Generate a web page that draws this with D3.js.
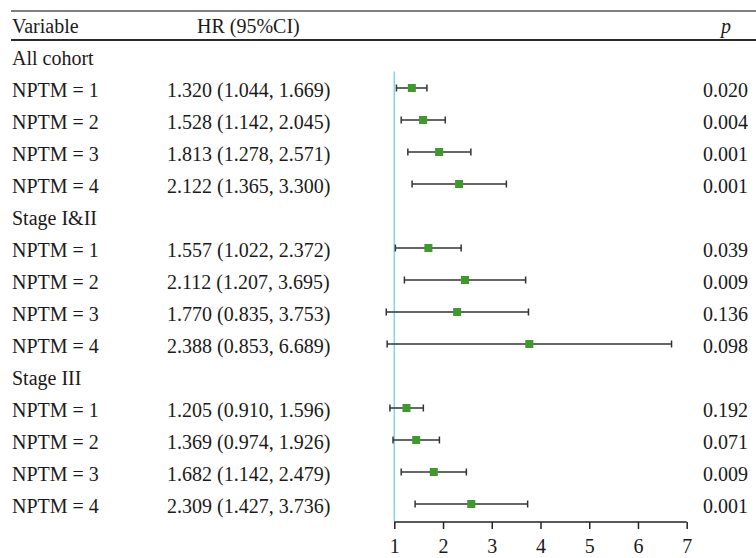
<!DOCTYPE html>
<html>
<head>
<meta charset="utf-8">
<script src="https://cdn.jsdelivr.net/npm/d3@7"></script>
<style>
  body { margin: 0; background: #fff; }
  svg text { font-family: "Liberation Serif", "DejaVu Serif", serif; font-size: 20px; fill: #1a1a1a; }
</style>
</head>
<body>
<svg id="chart" width="756" height="558"></svg>
<script>
// rows of the table, group headers have no estimate
var labels = ["All cohort", "NPTM = 1", "NPTM = 2", "NPTM = 3", "NPTM = 4",
              "Stage I&II", "NPTM = 1", "NPTM = 2", "NPTM = 3", "NPTM = 4",
              "Stage III", "NPTM = 1", "NPTM = 2", "NPTM = 3", "NPTM = 4"];
var hr    = [null, 1.320, 1.528, 1.813, 2.122, null, 1.557, 2.112, 1.770, 2.388, null, 1.205, 1.369, 1.682, 2.309];
var lower = [null, 1.044, 1.142, 1.278, 1.365, null, 1.022, 1.207, 0.835, 0.853, null, 0.910, 0.974, 1.142, 1.427];
var upper = [null, 1.669, 2.045, 2.571, 3.300, null, 2.372, 3.695, 3.753, 6.689, null, 1.596, 1.926, 2.479, 3.736];
var pvals = [null, "0.020", "0.004", "0.001", "0.001", null, "0.039", "0.009", "0.136", "0.098", null, "0.192", "0.071", "0.009", "0.001"];
// where the squares sit in the figure (read off the plot, not the HR column)
var markers = [null, 1.36, 1.59, 1.92, 2.33, null, 1.70, 2.45, 2.29, 3.77, null, 1.25, 1.45, 1.81, 2.58];
var xTicks = [1, 2, 3, 4, 5, 6, 7];

var rows = labels.map(function(l, i) {
    return {label: l, hr: hr[i], lo: lower[i], hi: upper[i], p: pvals[i], m: markers[i], index: i};
});

var svg = d3.select("#chart");

var x = d3.scaleLinear().domain([1, 7]).range([394.3, 686.7]);
var y = d3.scaleLinear().domain([0, rows.length - 1]).range([56, 504]);
var axisY = 522;

function fmt(v) { return v.toFixed(3); }

// header rules
svg.append("line")
    .attr("x1", 11).attr("x2", 756).attr("y1", 11).attr("y2", 11)
    .attr("stroke", "#555").attr("stroke-width", 1.3);
svg.append("line")
    .attr("x1", 11).attr("x2", 756).attr("y1", 40).attr("y2", 40)
    .attr("stroke", "#2a2a2a").attr("stroke-width", 2);

svg.append("text").attr("x", 12).attr("y", 33).text("Variable");
svg.append("text").attr("x", 197).attr("y", 33).text("HR (95%CI)");
svg.append("text").attr("x", 726).attr("y", 33)
    .attr("text-anchor", "middle").style("font-style", "italic").text("p");

// reference line at HR = 1
svg.append("line")
    .attr("x1", x(1)).attr("x2", x(1))
    .attr("y1", 71.5).attr("y2", axisY)
    .attr("stroke", "#7fd6e4").attr("stroke-width", 1.5);

var row = svg.selectAll(".row")
    .data(rows)
    .enter()
    .append("g")
    .attr("class", "row")
    .attr("transform", function(d) { return "translate(0," + y(d.index) + ")"; });

row.append("text")
    .attr("x", 12).attr("y", 9)
    .text(function(d) { return d.label; });

var est = row.filter(function(d) { return d.hr !== null; });

est.append("text")
    .attr("x", 167).attr("y", 9)
    .text(function(d) { return fmt(d.hr) + " (" + fmt(d.lo) + ", " + fmt(d.hi) + ")"; });

est.append("text")
    .attr("x", 748).attr("y", 9)
    .attr("text-anchor", "end")
    .text(function(d) { return d.p; });

est.append("line")
    .attr("x1", function(d) { return x(d.lo); })
    .attr("x2", function(d) { return x(d.hi); })
    .attr("stroke", "#333").attr("stroke-width", 1.5);

est.selectAll(".cap")
    .data(function(d) { return [d.lo, d.hi]; })
    .enter()
    .append("line")
    .attr("class", "cap")
    .attr("x1", function(v) { return x(v); })
    .attr("x2", function(v) { return x(v); })
    .attr("y1", -3.5).attr("y2", 3.5)
    .attr("stroke", "#333").attr("stroke-width", 1.5);

est.append("rect")
    .attr("x", function(d) { return x(d.m) - 4; })
    .attr("y", -4)
    .attr("width", 8).attr("height", 8)
    .attr("fill", "#3d9a2b");

// x axis
var axis = d3.axisBottom(x).tickValues(xTicks).tickSize(7).tickPadding(10)
    .tickFormat(d3.format("d"));
var gAxis = svg.append("g")
    .attr("transform", "translate(0," + axisY + ")")
    .call(axis);
gAxis.select(".domain").attr("stroke", "#222").attr("stroke-width", 1.5)
    .attr("d", "M" + x(1) + ",0H" + x(7));
gAxis.selectAll(".tick line").attr("stroke", "#222").attr("stroke-width", 1.5);
gAxis.selectAll(".tick text")
    .style("font-family", "\"Liberation Serif\", serif")
    .style("font-size", "20px")
    .attr("fill", "#1a1a1a");
</script>
</body>
</html>
